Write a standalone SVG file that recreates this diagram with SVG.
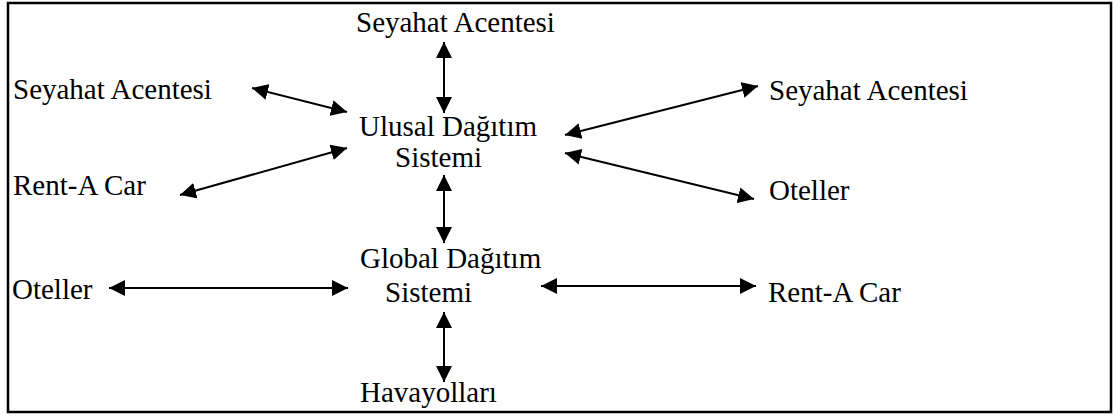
<svg xmlns="http://www.w3.org/2000/svg" width="1113" height="416" viewBox="0 0 1113 416">
<style>
text { font-family: "Liberation Serif", "Times New Roman", serif; font-size: 29px; fill: #000; }
.c line { stroke: #000; stroke-width: 2; marker-start: url(#ah); marker-end: url(#ah); }
</style>
<defs>
<marker id="ah" markerUnits="userSpaceOnUse" markerWidth="17" markerHeight="16" refX="16" refY="8" orient="auto-start-reverse" viewBox="0 0 17 16">
<path d="M0,0 L16,8 L0,16 z" fill="#000"/>
</marker>
</defs>
<rect x="8" y="3" width="1103" height="409" fill="#fff" stroke="#000" stroke-width="2.5"/>
<g id="n-top"><text x="356" y="32">Seyahat Acentesi</text></g>
<g id="n-uds"><text x="359" y="136">Ulusal Dağıtım</text><text x="395" y="167">Sistemi</text></g>
<g id="n-left-sa"><text x="13" y="99">Seyahat Acentesi</text></g>
<g id="n-left-rac"><text x="13" y="195">Rent-A Car</text></g>
<g id="n-right-sa"><text x="769" y="100">Seyahat Acentesi</text></g>
<g id="n-right-ot"><text x="769" y="200">Oteller</text></g>
<g id="n-gds"><text x="360" y="268">Global Dağıtım</text><text x="385" y="302">Sistemi</text></g>
<g id="n-left-ot"><text x="12" y="299">Oteller</text></g>
<g id="n-right-rac"><text x="768" y="302">Rent-A Car</text></g>
<g id="n-hava"><text x="360" y="402">Havayolları</text></g>
<g class="c" id="connectors">
<line x1="444" y1="42" x2="444" y2="113"/>
<line x1="444" y1="175" x2="444" y2="243"/>
<line x1="444" y1="312" x2="444" y2="382"/>
<line x1="252" y1="88" x2="347" y2="112"/>
<line x1="347" y1="148" x2="180" y2="195"/>
<line x1="565" y1="135" x2="758" y2="86"/>
<line x1="565" y1="153" x2="754" y2="199"/>
<line x1="109" y1="288" x2="348" y2="288"/>
<line x1="541" y1="286" x2="756" y2="286"/>
</g>
</svg>
